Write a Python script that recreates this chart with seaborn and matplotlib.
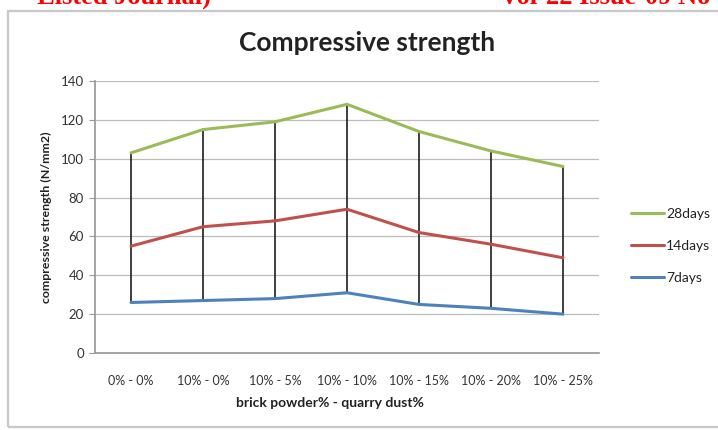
import matplotlib
matplotlib.use("Agg")
import matplotlib.pyplot as plt
import seaborn as sns
import pandas as pd
from matplotlib.patches import Rectangle

# Mix proportions (brick powder% - quarry dust%)
mixes = ["0% - 0%", "10% - 0%", "10% - 5%", "10% - 10%",
         "10% - 15%", "10% - 20%", "10% - 25%"]

# Compressive strength (N/mm2) per curing age
days28 = [103, 115, 119, 128, 114, 104, 96]
days14 = [55, 65, 68, 74, 62, 56, 49]
days7 = [26, 27, 28, 31, 25, 23, 20]

series_names = ["28days", "14days", "7days"]
series_values = [days28, days14, days7]
series_colors = ["#9BBB59", "#C0504D", "#4F81BD"]

yticks = [0, 20, 40, 60, 80, 100, 120, 140]

rows = []
for name, vals in zip(series_names, series_values):
    for i, v in enumerate(vals):
        rows.append({"pos": i, "mix": mixes[i], "strength": v, "age": name})
df = pd.DataFrame(rows)

sns.set_theme(style="white")
plt.rcParams["font.family"] = ["Lato", "DejaVu Sans"]

fig = plt.figure(figsize=(7.18, 4.30), dpi=100)
fig.patch.set_facecolor("white")

# chart frame
frame = Rectangle((8 / 718, 3 / 430), 1.2, 416 / 430, transform=fig.transFigure,
                  fill=False, edgecolor="#c8c8c8", linewidth=1.6, zorder=0)
fig.add_artist(frame)

# page header text partly cut at the top edge
fig.text(211 / 718, 1.006, "Listed Journal)", color="#ff0000", fontsize=19,
         fontweight="bold", family="Liberation Serif", va="center", ha="right")
fig.text(500 / 718, 1.006, "Vol-22 Issue-09 No", color="#ff0000", fontsize=19,
         fontweight="bold", family="Liberation Serif", va="center", ha="left")

ax = fig.add_axes([95 / 718, 1 - 353 / 430, 504 / 718, 272 / 430])
ax.set_facecolor("white")

# high-low lines between 28-day and 7-day values
ax.vlines(range(len(mixes)), days7, days28, color="#1e1e1e", linewidth=1.2, zorder=2)

sns.lineplot(data=df, x="pos", y="strength", hue="age", hue_order=series_names,
             palette=series_colors, linewidth=2.2, ax=ax, legend=False, zorder=3)

ax.set_xlim(-0.5, len(mixes) - 0.5)
ax.set_ylim(0, 140)
ax.set_yticks(yticks)
ax.set_yticklabels([str(t) for t in yticks], fontsize=9.5, color="#333333")
ax.set_xticks(range(len(mixes)))
ax.set_xticklabels(mixes, fontsize=9, color="#333333")
ax.tick_params(axis="y", length=4, color="#999999", width=0.8, pad=4, left=True)
ax.tick_params(axis="x", length=0, pad=16)
ax.grid(axis="y", color="#bdbdbd", linewidth=0.9)
ax.set_axisbelow(True)
for side in ["top", "right"]:
    ax.spines[side].set_visible(False)
ax.spines["left"].set_color("#999999")
ax.spines["bottom"].set_color("#999999")
ax.set_xlabel("")
ax.set_ylabel("compressive strength (N/mm2)", fontsize=8.9, fontweight="bold",
              color="#222222", labelpad=6)

fig.text(330 / 718, 1 - 403 / 430, "brick powder% - quarry dust%", fontsize=10,
         fontweight="bold", color="#222222", ha="center", va="center")
fig.text(367 / 718, 1 - 43 / 430, "Compressive strength", fontsize=19,
         fontweight="bold", color="#222222", ha="center", va="center")

# legend
handles = [plt.Line2D([], [], color=c, linewidth=2.2) for c in series_colors]
fig.legend(handles, series_names, loc="center left",
           bbox_to_anchor=(618 / 718, 1 - 246 / 430), frameon=False,
           fontsize=10, handlelength=2.4, handletextpad=0.15, labelspacing=1.45,
           labelcolor="#222222")

fig.savefig("out.png", dpi=100)
